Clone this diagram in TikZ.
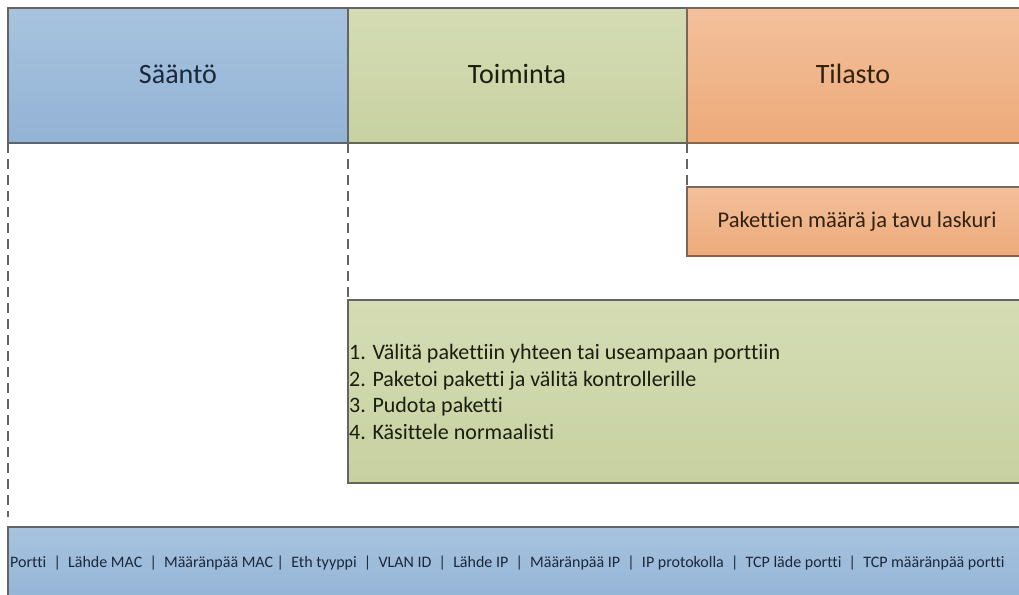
\documentclass[tikz,border=0pt]{standalone}
\usepackage{fontspec}
\setmainfont{Carlito}[Ligatures=NoCommon]
\definecolor{blueT}{HTML}{A7C3DF}
\definecolor{blueB}{HTML}{93B3D5}
\definecolor{greenT}{HTML}{D5DCB5}
\definecolor{greenB}{HTML}{C8D1A1}
\definecolor{orangeT}{HTML}{F3C09C}
\definecolor{orangeB}{HTML}{EDAA79}
\definecolor{edgeGray}{HTML}{646464}
\definecolor{edgeBrown}{HTML}{7E6656}
\definecolor{inkBlue}{HTML}{1A283C}
\definecolor{inkBrown}{HTML}{34200F}
\definecolor{inkGreen}{HTML}{1A1E0E}
\tikzset{
  box/.style={draw, line width=1.2pt, anchor=north west, inner sep=0pt, outer sep=0pt},
  bluebox/.style={box, draw=edgeGray, top color=blueT, bottom color=blueB},
  greenbox/.style={box, draw=edgeGray, top color=greenT, bottom color=greenB},
  orangebox/.style={box, draw=edgeBrown, top color=orangeT, bottom color=orangeB},
  guide/.style={draw=edgeGray, line width=1.2pt, dash pattern=on 10pt off 6pt},
  headtext/.style={font=\fontsize{28}{32}\selectfont},
}
\begin{document}
\begin{tikzpicture}[x=1pt,y=-1pt]
\useasboundingbox (0,0) rectangle (1019,594);

% column headers
\node[bluebox, minimum width=340pt, minimum height=135pt] (rule) at (8,8) {};
\node[greenbox, minimum width=339pt, minimum height=135pt] (action) at (348,8) {};
\node[orangebox, minimum width=340pt, minimum height=135pt] (stats) at (687,8) {};
\node[headtext, text=inkBlue] (ruleT) at (178,74) {Sääntö};
\node[headtext, text=inkGreen] (actionT) at (517,74) {Toiminta};
\node[headtext, text=inkBrown] (statsT) at (853,74) {Tilasto};

% statistics box
\node[orangebox, minimum width=340pt, minimum height=69pt] (counter) at (687,187) {};
\node[text=inkBrown, font=\fontsize{22.5}{26}\selectfont] (counterT) at (857,222) {Pakettien määrä ja tavu laskuri};

% action list
\node[greenbox, minimum width=680pt, minimum height=183pt] (actlist) at (348,300) {};
\node[anchor=west, text=inkGreen, align=left, inner sep=0pt,
      font=\fontsize{22}{26.8}\selectfont] (actlistT) at (349,392)
  {1. Välitä pakettiin yhteen tai useampaan porttiin\\
   2. Paketoi paketti ja välitä kontrollerille\\
   3. Pudota paketti\\
   4. Käsittele normaalisti};

% header fields
\node[bluebox, minimum width=1020pt, minimum height=80pt] (fields) at (8,527) {};
\node[anchor=west, inner sep=0pt, text=inkBlue, font=\fontsize{16}{19}\selectfont] (fieldsT) at (10,563)
  {Portti \ | \ Lähde MAC \ | \ Määränpää MAC | \ Eth tyyppi \ | \ VLAN ID \ | \ Lähde IP \ | \ Määränpää IP \ | \ IP protokolla \ | \ TCP läde portti \ | \ TCP määränpää portti};

% dashed guides from the column headers
\coordinate (g1) at (8,517);
\draw[guide] (rule.south west) -- (g1);
\draw[guide] (action.south west) -- (actlist.north west);
\draw[guide] (stats.south west) -- (counter.north west);
\end{tikzpicture}
\end{document}
